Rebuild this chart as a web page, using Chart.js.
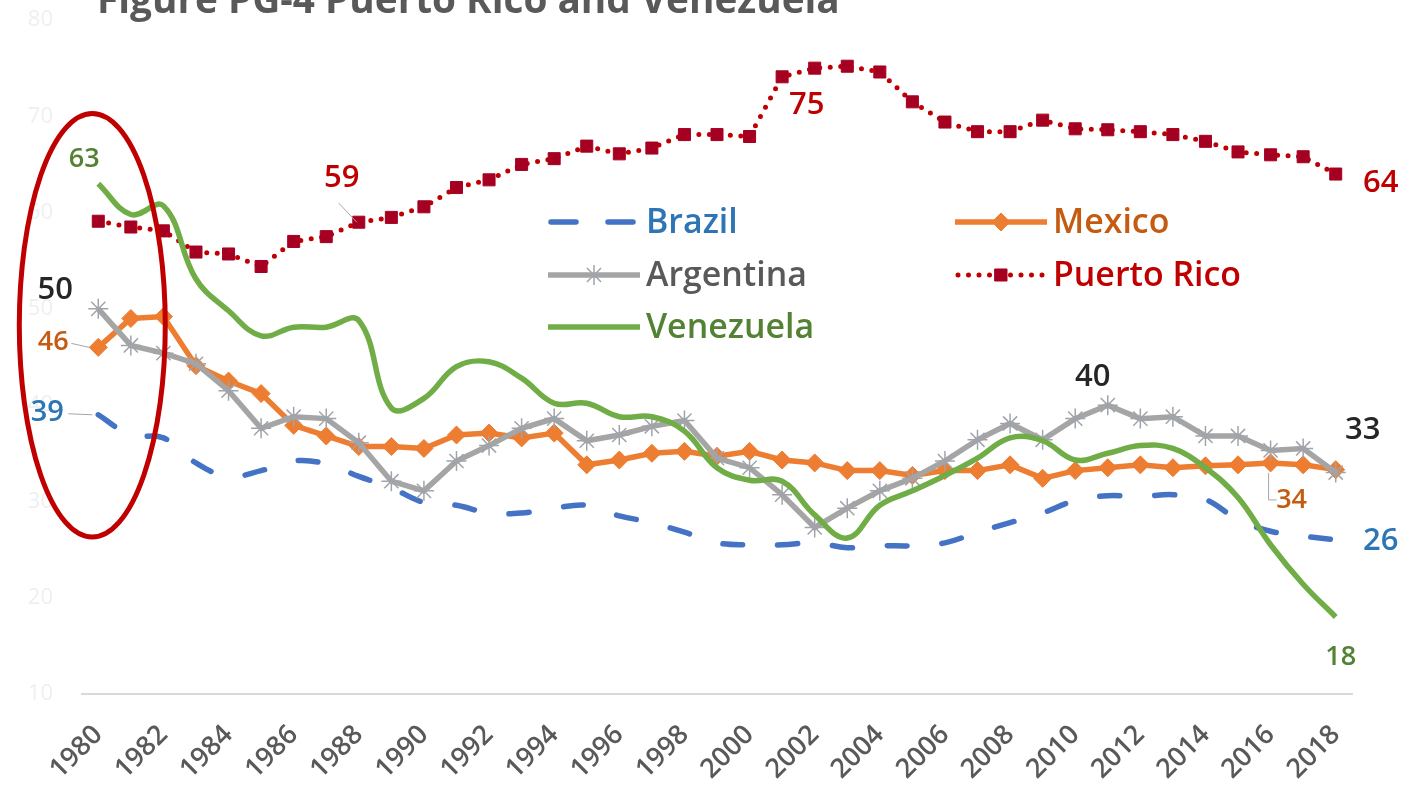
<!DOCTYPE html>
<html>
<head>
<meta charset="utf-8">
<script src="https://cdn.jsdelivr.net/npm/chart.js@4/dist/chart.umd.min.js"></script>
<style>
  html, body { margin: 0; padding: 0; background: #ffffff; }
  #wrap { width: 1421px; height: 804px; }
</style>
</head>
<body>
<div id="wrap"><canvas id="c" width="1421" height="804"></canvas></div>
<script>
// ---- data -------------------------------------------------------------
const years = [];
for (let y = 1980; y <= 2018; y++) years.push(String(y));

const brazil = [39, 36.9, 36.6, 34.0, 32.6, 33.2, 34.2, 33.9, 32.6, 31.4,
  29.9, 29.6, 28.8, 28.8, 29.3, 29.6, 28.5, 27.8, 26.8, 25.7,
  25.5, 25.5, 25.7, 25.2, 25.4, 25.4, 25.7, 26.8, 27.8, 28.8,
  30.1, 30.6, 30.5, 30.7, 30.2, 28.1, 26.9, 26.4, 26];

const mexico = [46, 49.0, 49.2, 44.1, 42.5, 41.2, 37.9, 36.8, 35.7, 35.7,
  35.5, 36.9, 37.1, 36.6, 37.1, 33.8, 34.3, 35.0, 35.2, 34.7,
  35.2, 34.3, 34.0, 33.2, 33.2, 32.7, 33.2, 33.2, 33.8, 32.4,
  33.2, 33.5, 33.8, 33.5, 33.7, 33.8, 34, 33.8, 33.3];

const argentina = [50, 46.2, 45.4, 44.3, 41.5, 37.6, 38.8, 38.6, 36.1, 32.1,
  31.1, 34.2, 35.8, 37.6, 38.6, 36.3, 36.9, 37.8, 38.4, 34.5,
  33.5, 30.7, 27.3, 29.3, 31.1, 32.4, 34.2, 36.4, 38.1, 36.4,
  38.6, 40, 38.6, 38.8, 36.8, 36.8, 35.3, 35.5, 33];

const puertoRico = [59.1, 58.5, 58.1, 55.9, 55.7, 54.4, 57.0, 57.5, 59, 59.5,
  60.6, 62.6, 63.4, 65.0, 65.6, 66.9, 66.1, 66.7, 68.1, 68.1,
  67.9, 74.1, 75, 75.2, 74.6, 71.5, 69.4, 68.4, 68.4, 69.6,
  68.7, 68.6, 68.4, 68.1, 67.4, 66.3, 66.0, 65.8, 64];

const venezuela = [63, 59.8, 60.7, 53.1, 49.8, 47.2, 48.1, 48.1, 48.8, 39.7,
  40.7, 44.0, 44.5, 42.8, 40.2, 40.2, 38.8, 38.8, 37.3, 33.5,
  32.2, 32.1, 28.6, 26.2, 29.6, 31.1, 32.7, 34.5, 36.6, 36.3,
  34.3, 35.0, 35.8, 35.5, 33.5, 30.4, 25.5, 21.4, 18];

const yTicks = [10, 20, 30, 40, 50, 60, 70, 80];
const titleText = 'Figure PG-4 Puerto Rico and Venezuela';

// ---- styling ----------------------------------------------------------
const FONT = "'Open Sans', 'Noto Sans', sans-serif";

const datasets = [
  { label: 'Venezuela', data: venezuela, borderColor: '#70AD47', borderWidth: 5.5,
    tension: 0.4, pointRadius: 0, order: 0, textColor: '#548235' },
  { label: 'Argentina', data: argentina, borderColor: '#A5A5A5', borderWidth: 5.5,
    tension: 0, pointStyle: 'star', pointRadius: 10, pointBorderWidth: 1.5,
    pointBorderColor: '#A0A4AA', pointBackgroundColor: '#A0A4AA', order: 1, textColor: '#595959' },
  { label: 'Mexico', data: mexico, borderColor: '#ED7D31', borderWidth: 5.5,
    tension: 0, pointStyle: 'rectRot', pointRadius: 9, pointBorderWidth: 1,
    pointBorderColor: '#ED7D31', pointBackgroundColor: '#ED7D31', order: 2, textColor: '#C55A11' },
  { label: 'Brazil', data: brazil, borderColor: '#4472C4', borderWidth: 5.5,
    borderDash: [20, 35], borderCapStyle: 'round', tension: 0.4, pointRadius: 0, order: 3, textColor: '#2E75B6' },
  { label: 'Puerto Rico', data: puertoRico, borderColor: '#C00000', borderWidth: 5,
    borderDash: [0, 10.5], borderCapStyle: 'round', tension: 0, pointStyle: 'rect',
    pointRadius: 8.5, pointBorderWidth: 1, pointBorderColor: '#A50021',
    pointBackgroundColor: '#A50021', order: 4, textColor: '#C00000' }
];
datasets.forEach(d => { d.fill = false; d.pointHoverRadius = d.pointRadius; });

// legend layout: two columns inside the plot
const legendLayout = [
  { label: 'Brazil', x: 548, y: 222, w: 92 },
  { label: 'Argentina', x: 548, y: 275, w: 92 },
  { label: 'Venezuela', x: 548, y: 327, w: 92 },
  { label: 'Mexico', x: 955, y: 222, w: 92 },
  { label: 'Puerto Rico', x: 955, y: 275, w: 92 }
];

// value callouts (offsets in px from the point they describe)
const callouts = [
  { series: 'Venezuela', year: '1980', dx: -14, dy: -24, size: 27, color: '#548235' },
  { series: 'Puerto Rico', year: '1988', dx: -17, dy: -44, size: 31, color: '#C00000', leader: [[-20, -19], [-2, 0]] },
  { series: 'Puerto Rico', year: '2002', dx: -8, dy: 37, size: 31, color: '#C00000' },
  { series: 'Puerto Rico', year: '2018', dx: 45, dy: 9, size: 31, color: '#C00000' },
  { series: 'Argentina', year: '1980', dx: -43, dy: -19, size: 31, color: '#262626' },
  { series: 'Argentina', year: '2011', dx: -15, dy: -28, size: 31, color: '#262626' },
  { series: 'Argentina', year: '2018', dx: 27, dy: -42, size: 31, color: '#262626' },
  { series: 'Mexico', year: '1980', dx: -45, dy: -5, size: 27, color: '#C55A11', leader: [[-27, -4], [-9, 0]] },
  { series: 'Mexico', year: '2016', dx: 21, dy: 37, size: 27, color: '#C55A11', leader: [[-2, 10], [-2, 37], [6, 37]] },
  { series: 'Brazil', year: '1980', dx: -51, dy: -2, size: 29, color: '#2E75B6', leader: [[-30, -1], [-6, 0]] },
  { series: 'Brazil', year: '2018', dx: 45, dy: 1, size: 31, color: '#2E75B6' },
  { series: 'Venezuela', year: '2018', dx: 5, dy: 40, size: 27, color: '#548235' }
];

// highlight ring round the first year
const ring = { year: '1980', from: 26.3, to: 70.3, halfWidthPx: 73, shiftPx: -6 };

// ---- helpers ----------------------------------------------------------
function fitSize(ctx, text, weight, width) {
  ctx.font = `${weight} 100px ${FONT}`;
  return 100 * width / ctx.measureText(text).width;
}

const decorations = {
  id: 'decorations',
  beforeDraw(chart) {
    const ctx = chart.ctx;
    ctx.save();
    ctx.fillStyle = '#ffffff';
    ctx.fillRect(0, 0, chart.width, chart.height);
    // title, partly above the top edge
    const ts = fitSize(ctx, titleText, 'bold', 743);
    ctx.font = `bold ${ts}px ${FONT}`;
    ctx.fillStyle = '#595959';
    ctx.textBaseline = 'alphabetic';
    ctx.textAlign = 'left';
    ctx.fillText(titleText, 97, 13);
    ctx.restore();
  },
  afterDatasetsDraw(chart) {
    const ctx = chart.ctx;
    const xs = chart.scales.x, ys = chart.scales.y;

    // ring
    ctx.save();
    const cx = xs.getPixelForValue(years.indexOf(ring.year)) + ring.shiftPx;
    const top = ys.getPixelForValue(ring.to), bot = ys.getPixelForValue(ring.from);
    ctx.beginPath();
    ctx.ellipse(cx, (top + bot) / 2, ring.halfWidthPx, (bot - top) / 2, 0, 0, Math.PI * 2);
    ctx.strokeStyle = '#C00000';
    ctx.lineWidth = 5;
    ctx.stroke();
    ctx.restore();

    // callouts
    callouts.forEach(c => {
      const ds = chart.data.datasets.find(d => d.label === c.series);
      const i = years.indexOf(c.year);
      const v = ds.data[i];
      const px = xs.getPixelForValue(i), py = ys.getPixelForValue(v);
      ctx.save();
      if (c.leader) {
        ctx.beginPath();
        c.leader.forEach((p, k) => k ? ctx.lineTo(px + p[0], py + p[1]) : ctx.moveTo(px + p[0], py + p[1]));
        ctx.strokeStyle = '#A6A6A6';
        ctx.lineWidth = 1;
        ctx.stroke();
      }
      ctx.font = `600 ${c.size}px ${FONT}`;
      ctx.fillStyle = c.color;
      ctx.textAlign = 'center';
      ctx.textBaseline = 'middle';
      ctx.fillText(String(Math.round(v)), px + c.dx, py + c.dy);
      ctx.restore();
    });

    // legend
    const ls = fitSize(ctx, 'Argentina', '600', 161);
    legendLayout.forEach(item => {
      const ds = chart.data.datasets.find(d => d.label === item.label);
      ctx.save();
      ctx.beginPath();
      ctx.strokeStyle = ds.borderColor;
      ctx.lineWidth = ds.borderWidth;
      ctx.lineCap = ds.borderCapStyle || 'butt';
      ctx.setLineDash(ds.borderDash || []);
      if (ds.label === 'Brazil') { ctx.setLineDash([25, 32]); ctx.lineDashOffset = 0; }
      ctx.moveTo(item.x + (ds.borderCapStyle === 'round' ? 3 : 0), item.y);
      ctx.lineTo(item.x + item.w, item.y);
      ctx.stroke();
      ctx.setLineDash([]);
      if (ds.pointRadius > 0) {
        ctx.fillStyle = ds.pointBackgroundColor;
        ctx.strokeStyle = ds.pointBorderColor;
        ctx.lineWidth = ds.pointBorderWidth;
        Chart.helpers.drawPoint(ctx, { pointStyle: ds.pointStyle, radius: ds.pointRadius,
          borderWidth: ds.pointBorderWidth, rotation: 0 }, item.x + item.w / 2, item.y);
      }
      ctx.font = `600 ${ls}px ${FONT}`;
      ctx.fillStyle = ds.textColor;
      ctx.textAlign = 'left';
      ctx.textBaseline = 'middle';
      ctx.fillText(ds.label, item.x + item.w + 6, item.y + 1);
      ctx.restore();
    });
  }
};

new Chart(document.getElementById('c').getContext('2d'), {
  type: 'line',
  data: { labels: years, datasets },
  plugins: [decorations],
  options: {
    responsive: false,
    animation: false,
    layout: { padding: { top: 20, right: 69, left: 0, bottom: 0 } },
    plugins: { legend: { display: false }, tooltip: { enabled: false }, title: { display: false } },
    scales: {
      x: {
        offset: true,
        grid: { display: false },
        border: { display: true, color: '#D9D9D9', width: 2 },
        ticks: {
          autoSkip: false, maxRotation: 45, minRotation: 45, padding: 17,
          color: '#595959', font: { family: FONT, size: 27, weight: '600' },
          callback: (v, i) => (i % 2 === 0 ? years[i] : '')
        },
        afterFit: s => { s.height = 110; }
      },
      y: {
        min: yTicks[0], max: yTicks[yTicks.length - 1],
        afterBuildTicks: s => { s.ticks = yTicks.map(v => ({ value: v })); },
        grid: { display: false, drawTicks: true, tickLength: 29 },
        border: { display: false },
        ticks: { padding: 0, color: '#EFEFEF', font: { family: FONT, size: 22 } },
        afterFit: s => { s.width = 82; }
      }
    }
  }
});
</script>
</body>
</html>
